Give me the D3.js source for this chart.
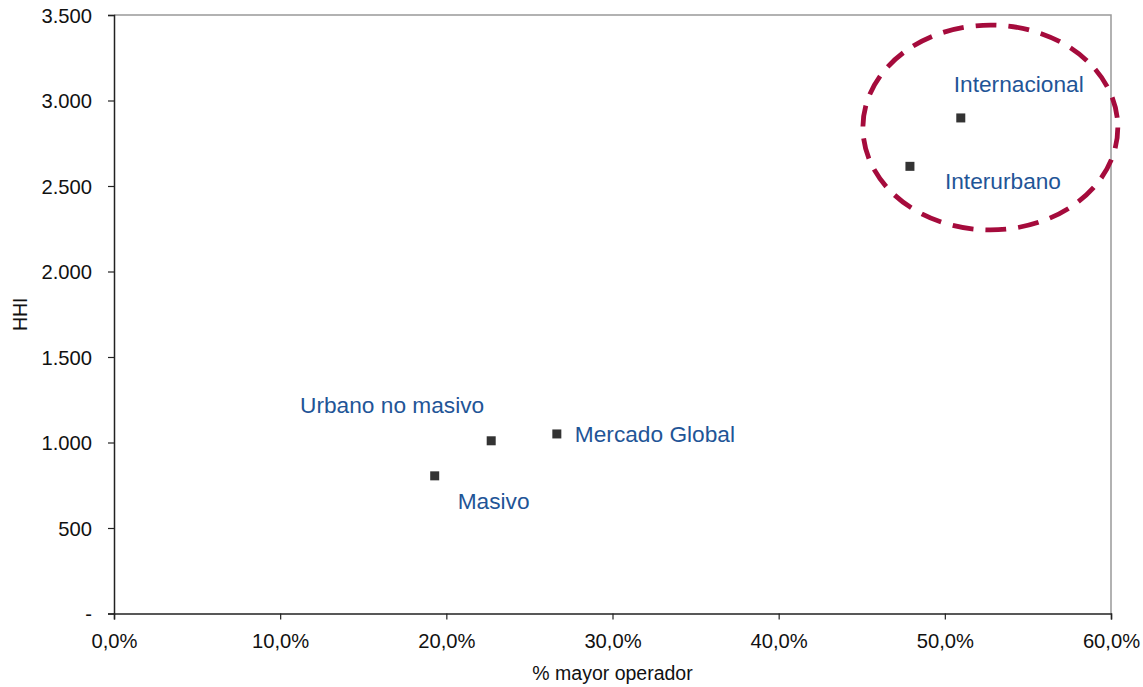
<!DOCTYPE html>
<html>
<head>
<meta charset="utf-8">
<script src="https://cdn.jsdelivr.net/npm/d3@7"></script>
<style>
  html, body { margin: 0; padding: 0; background: #fff; }
  svg { display: block; font-family: "Liberation Sans", Arial, sans-serif; }
</style>
</head>
<body>
<svg id="chart" width="1143" height="687"></svg>
<script>
// Market segments: share of the largest operator vs. HHI
const segments = ["Masivo", "Urbano no masivo", "Mercado Global", "Interurbano", "Internacional"];
const shareLargest = [0.193, 0.227, 0.2665, 0.479, 0.5096];
const hhiValues = [805, 1010, 1050, 2615, 2898];

const xTicks = [0, 0.1, 0.2, 0.3, 0.4, 0.5, 0.6];
const yTicks = [0, 500, 1000, 1500, 2000, 2500, 3000, 3500];

// Label placement relative to each point (dx, dy in px, anchor)
const labelOffsets = [
  { dx: 23, dy: 33, anchor: "start" },
  { dx: -7, dy: -28, anchor: "end" },
  { dx: 18, dy: 8, anchor: "start" },
  { dx: 35, dy: 23, anchor: "start" },
  { dx: -7, dy: -26, anchor: "start" }
];

// Highlight ellipse around the concentrated segments (data units)
const highlight = { cx: 0.5274, cy: 2842, rx: 0.0767, ry: 599 };

const svg = d3.select("#chart");
const margin = { left: 114, top: 15, right: 32, bottom: 73.5 };
const W = 1143, H = 687;

const x = d3.scaleLinear().domain([0, 0.6]).range([margin.left, W - margin.right]);
const y = d3.scaleLinear().domain([0, 3500]).range([H - margin.bottom, margin.top]);

const fmtPct = v => d3.format(".1f")(v * 100).replace(".", ",") + "%";
const fmtNum = v => v === 0 ? "-" : d3.format(",")(v).replace(/,/g, ".");

// Plot frame: grey top/right border
svg.append("path")
  .attr("d", `M${x(0)},${y(3500)} H${x(0.6)} V${y(0)}`)
  .attr("fill", "none")
  .attr("stroke", "#999")
  .attr("stroke-width", 1.5);

// Axes
const xAxis = svg.append("g")
  .attr("transform", `translate(0,${y(0)})`)
  .call(d3.axisBottom(x).tickValues(xTicks).tickFormat(fmtPct).tickSizeOuter(0).tickSize(6).tickPadding(14));

const yAxis = svg.append("g")
  .attr("transform", `translate(${x(0)},0)`)
  .call(d3.axisLeft(y).tickValues(yTicks).tickFormat(fmtNum).tickSizeOuter(0).tickSize(6).tickPadding(16));

[xAxis, yAxis].forEach(g => {
  g.select(".domain").attr("stroke", "#222").attr("stroke-width", 1.5);
  g.selectAll(".tick line").attr("stroke", "#222").attr("stroke-width", 1.2);
  g.selectAll(".tick text")
    .attr("fill", "#111")
    .style("font-size", "20.2px")
    .style("font-family", "'Liberation Sans', Arial, sans-serif");
});
yAxis.selectAll(".tick text").attr("dy", "0.36em");

// Axis titles
svg.append("text")
  .attr("x", (x(0) + x(0.6)) / 2)
  .attr("y", 680)
  .attr("text-anchor", "middle")
  .attr("fill", "#111")
  .style("font-size", "19.5px")
  .text("% mayor operador");

svg.append("text")
  .attr("transform", `translate(27,${(y(0) + y(3500)) / 2}) rotate(-90)`)
  .attr("text-anchor", "middle")
  .attr("fill", "#111")
  .style("font-size", "19.5px")
  .text("HHI");

// Highlight ellipse
svg.append("ellipse")
  .attr("cx", x(highlight.cx))
  .attr("cy", y(highlight.cy))
  .attr("rx", x(highlight.cx + highlight.rx) - x(highlight.cx))
  .attr("ry", y(highlight.cy) - y(highlight.cy + highlight.ry))
  .attr("fill", "none")
  .attr("stroke", "#A50B3C")
  .attr("stroke-width", 4.8)
  .attr("stroke-dasharray", "21 12");

// Points
const data = segments.map((s, i) => ({ name: s, share: shareLargest[i], hhi: hhiValues[i], off: labelOffsets[i] }));

svg.append("g").selectAll("rect")
  .data(data)
  .join("rect")
  .attr("x", d => x(d.share) - 4.5)
  .attr("y", d => y(d.hhi) - 4.5)
  .attr("width", 9)
  .attr("height", 9)
  .attr("fill", "#333");

// Labels
svg.append("g").selectAll("text")
  .data(data)
  .join("text")
  .attr("x", d => x(d.share) + d.off.dx)
  .attr("y", d => y(d.hhi) + d.off.dy)
  .attr("text-anchor", d => d.off.anchor)
  .attr("fill", "#1F5597")
  .style("font-size", "22.7px")
  .text(d => d.name);
</script>
</body>
</html>
